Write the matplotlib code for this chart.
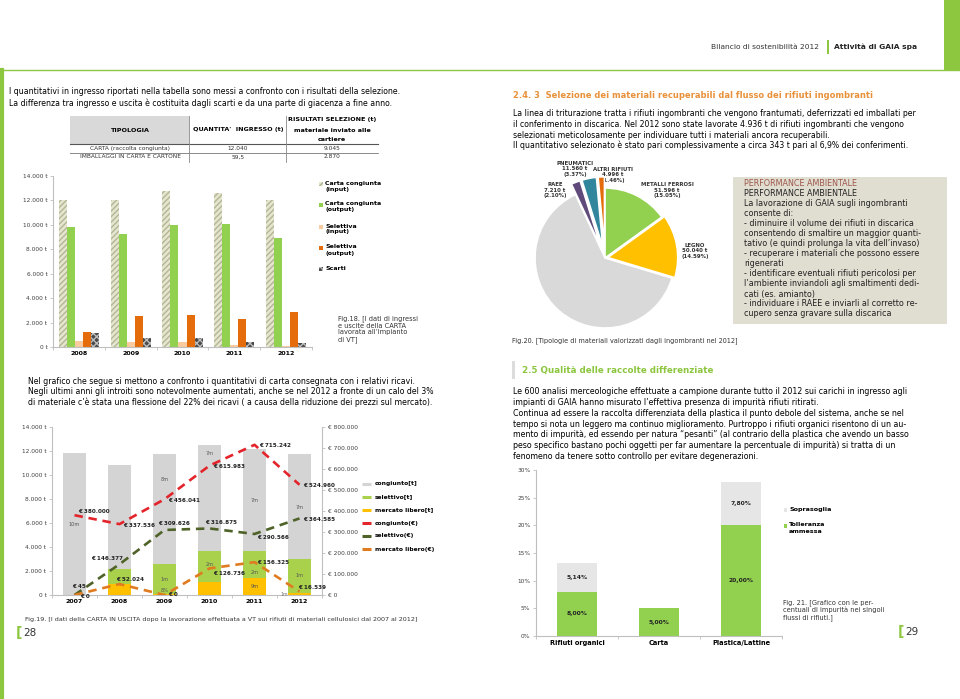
import numpy as np
import matplotlib.pyplot as plt
from matplotlib.patches import Rectangle
from matplotlib.ticker import FuncFormatter

W, H = 960, 699

# --- Fig.18: carta in ingresso / uscita (t)
years18 = ['2008', '2009', '2010', '2011', '2012']
carta_input = [12040, 12050, 12800, 12600, 12040]
carta_output = [9800, 9250, 9950, 10050, 8950]
selettiva_input = [480, 400, 420, 150, 60]
selettiva_output = [1250, 2550, 2580, 2300, 2870]
scarti = [1150, 750, 700, 450, 300]
labels18 = ['Carta congiunta\n(input)', 'Carta congiunta\n(output)',
            'Selettiva\n(input)', 'Selettiva\n(output)', 'Scarti']

# --- tabella
tab_tipologia = ['CARTA (raccolta congiunta)', 'IMBALLAGGI IN CARTA E CARTONE']
tab_ingresso = ['12.040', '59,5']
tab_risultati = ['9.045', '2.870']

# --- Fig.19: carta in uscita (t) e ricavi (EUR)
years19 = ['2007', '2008', '2009', '2010', '2011', '2012']
mercato_t = [0, 900, 50, 1100, 1400, 150]
selettivo_t = [0, 1300, 2550, 2600, 2300, 2850]
congiunto_t = [11800, 8600, 9150, 8800, 8500, 8750]
congiunto_eur = [380000, 337536, 456041, 615983, 715242, 524960]
selettivo_eur = [45, 146377, 309626, 316875, 290566, 364585]
mercato_eur = [0, 52024, 0, 126736, 156325, 16539]
# small labels printed inside the bars: (year index, level in t, text)
bar_notes = [(0, 5900, '10m'), (2, 9600, '8m'), (3, 11800, '7m'), (4, 7900, '7m'),
             (5, 7300, '7m'), (2, 1300, '1m'), (3, 2500, '2m'), (4, 1900, '2m'),
             (5, 1600, '1m'), (4, 750, '9m'), (2, 400, '8%')]
labels19 = ['congiunto[t]', 'selettivo[t]', 'mercato libero[t]',
            'congiunto(€)', 'selettivo(€)', 'mercato libero(€)']

# --- Fig.20: ingombranti 2012
pie_names = ['METALLI FERROSI', 'LEGNO', 'PLASTICA DURA', 'RAEE', 'PNEUMATICI', 'ALTRI RIFIUTI']
pie_t = [51.596, 50.040, 217.464, 7.210, 11.560, 4.996]
pie_pct = [15.05, 14.59, 63.43, 2.10, 3.37, 1.46]

# --- Fig.21: impurità
flussi = ['Rifiuti organici', 'Carta', 'Plastica/Lattine']
tolleranza = [8.00, 5.00, 20.00]
soprasoglia = [5.14, 0.0, 7.80]

GREEN = '#8dc63f'
BODY = 5.6
plt.rcParams['font.family'] = ['DejaVu Sans']


def it_num(v):
    return f'{v:,.0f}'.replace(',', '.')


def px_rect(x0, y0, x1, y1):
    return [x0 / W, 1 - y1 / H, (x1 - x0) / W, (y1 - y0) / H]


def style_axis(ax, color='#bfbfbf'):
    for s in ['top', 'right']:
        ax.spines[s].set_visible(False)
    for s in ['left', 'bottom']:
        ax.spines[s].set_color(color)
        ax.spines[s].set_linewidth(0.8)
    ax.tick_params(axis='y', length=2, width=0.6, color=color, labelsize=4.2,
                   labelcolor='#404040', pad=2)
    ax.tick_params(axis='x', length=0, labelsize=4.5, pad=3)
    ax.set_facecolor('none')


fig = plt.figure(figsize=(9.6, 6.99), dpi=100)
bg = fig.add_axes([0, 0, 1, 1])
bg.set_xlim(0, W)
bg.set_ylim(H, 0)
bg.axis('off')


def T(x, y, s, size=BODY, **kw):
    kw.setdefault('va', 'center')
    return bg.text(x, y, s, fontsize=size, **kw)


# ---------------- page frame / header
bg.add_patch(Rectangle((944, 0), 16, 70, color=GREEN, lw=0))
bg.plot([0, W], [70, 70], color=GREEN, lw=1)
bg.plot([1.5, 1.5], [70, H], color=GREEN, lw=3)
T(711, 47, 'Bilancio di sostenibilità 2012', 5.4, color='#333333')
bg.add_patch(Rectangle((827, 40), 2, 14, color=GREEN, lw=0))
T(834, 47, 'Attività di GAIA spa', 5.4, fontweight='bold', color='#222222')

# ---------------- left page text
T(9, 92, 'I quantitativi in ingresso riportati nella tabella sono messi a confronto con i risultati della selezione.')
T(9, 103, 'La differenza tra ingresso e uscita è costituita dagli scarti e da una parte di giacenza a fine anno.')

# table
bg.add_patch(Rectangle((70, 116), 119, 28, color='#d9d9d9', lw=0))
bg.plot([70, 378], [144, 144], color='#555555', lw=0.8)
bg.plot([70, 378], [152.5, 152.5], color='#777777', lw=0.6)
bg.plot([189, 189], [116, 162], color='#888888', lw=0.6)
bg.plot([286, 286], [116, 162], color='#888888', lw=0.6)
T(130, 130, 'TIPOLOGIA', 4.6, fontweight='bold', ha='center')
T(238, 130, "QUANTITA'  INGRESSO (t)", 4.6, fontweight='bold', ha='center')
T(332, 120, 'RISULTATI SELEZIONE (t)', 4.6, fontweight='bold', ha='center')
T(332, 130, 'materiale inviato alle', 4.6, fontweight='bold', ha='center')
T(332, 139.5, 'cartiere', 4.6, fontweight='bold', ha='center')
for i, yy in enumerate([148.5, 157]):
    T(130, yy, tab_tipologia[i], 4.2, ha='center', color='#333333')
    T(238, yy, tab_ingresso[i], 4.2, ha='center', color='#333333')
    T(332, yy, tab_risultati[i], 4.2, ha='center', color='#333333')

# ---------------- Fig.18
ax1 = fig.add_axes(px_rect(53, 176, 312, 347))
x1 = np.arange(len(years18))
bw = 0.155
styles18 = [
    dict(facecolor='#e6e6d0', edgecolor='#b2b694', hatch='//////'),
    dict(facecolor='#92d050', edgecolor='#92d050'),
    dict(facecolor='#f9cb9f', edgecolor='#f9cb9f'),
    dict(facecolor='#e46c0a', edgecolor='#e46c0a'),
    dict(facecolor='#4a4a4a', edgecolor='#bdbdbd', hatch='xxxxx'),
]
series18 = [carta_input, carta_output, selettiva_input, selettiva_output, scarti]
for i, vals in enumerate(series18):
    ax1.bar(x1 + (i - 2) * bw, vals, bw, linewidth=0, **styles18[i])
ax1.set_xlim(-0.5, len(years18) - 0.5)
ax1.set_ylim(0, 14000)
ax1.set_yticks(range(0, 14001, 2000))
ax1.yaxis.set_major_formatter(FuncFormatter(lambda v, p: it_num(v) + ' t'))
ax1.set_xticks(x1)
ax1.set_xticklabels(years18, fontweight='bold')
ax1.set_xticks(np.arange(-0.5, len(years18)), minor=True)
ax1.tick_params(axis='x', which='minor', length=2, color='#bfbfbf')
style_axis(ax1)

for i, (lab, yy) in enumerate(zip(labels18, [184, 205, 227, 248, 269])):
    st = styles18[i]
    bg.add_patch(Rectangle((318.5, yy - 2), 4, 4, facecolor=st['facecolor'],
                           edgecolor=st['edgecolor'], hatch=st.get('hatch'), lw=0))
    T(325, yy - 3.5, lab, 4.5, fontweight='bold', va='top', linespacing=1.25)

T(338, 315, 'Fig.18. [I dati di ingressi\ne uscite della CARTA\nlavorata all\u2019impianto\ndi VT]',
  4.8, va='top', color='#333333', linespacing=1.15)

# ---------------- paragraph
T(28, 381, 'Nel grafico che segue si mettono a confronto i quantitativi di carta consegnata con i relativi ricavi.')
T(28, 391.5, 'Negli ultimi anni gli introiti sono notevolmente aumentati, anche se nel 2012 a fronte di un calo del 3%')
T(28, 402, 'di materiale c\u2019è stata una flessione del 22% dei ricavi ( a causa della riduzione dei prezzi sul mercato).')

# ---------------- Fig.19
ax2 = fig.add_axes(px_rect(52, 427, 322, 595))
x2 = np.arange(len(years19))
bw2 = 0.51
c_merc, c_sel, c_cong = '#ffc000', '#a9d14c', '#d4d4d4'
ax2.bar(x2, mercato_t, bw2, color=c_merc, lw=0)
ax2.bar(x2, selettivo_t, bw2, bottom=mercato_t, color=c_sel, lw=0)
ax2.bar(x2, congiunto_t, bw2, bottom=np.add(mercato_t, selettivo_t), color=c_cong, lw=0)
for i, lvl, s in bar_notes:
    ax2.text(i, lvl, s, fontsize=3.6, ha='center', va='center', color='#555555')
ax2.text(5 - 0.33, 80, '1m', fontsize=3.4, ha='center', va='center', color='#777777')
ax2.set_xlim(-0.5, len(years19) - 0.5)
ax2.set_ylim(0, 14000)
ax2.set_yticks(range(0, 14001, 2000))
ax2.yaxis.set_major_formatter(FuncFormatter(lambda v, p: it_num(v) + ' t'))
ax2.set_xticks(x2)
ax2.set_xticklabels(years19, fontweight='bold')
ax2.set_xticks(np.arange(-0.5, len(years19)), minor=True)
ax2.tick_params(axis='x', which='minor', length=2, color='#bfbfbf')
style_axis(ax2)

ax2r = ax2.twinx()
ax2r.set_ylim(0, 800000)
ax2r.set_yticks(range(0, 800001, 100000))
ax2r.yaxis.set_major_formatter(FuncFormatter(lambda v, p: '€ ' + it_num(v)))
for s in ['top', 'left', 'bottom']:
    ax2r.spines[s].set_visible(False)
ax2r.spines['right'].set_color('#bfbfbf')
ax2r.spines['right'].set_linewidth(0.8)
ax2r.tick_params(axis='y', length=2, width=0.6, color='#bfbfbf', labelsize=4.2,
                 labelcolor='#404040', pad=2)

line_styles = [('#e3242b', congiunto_eur), ('#4f6228', selettivo_eur), ('#e07b20', mercato_eur)]
for col, vals in line_styles:
    ax2r.plot(x2, vals, color=col, lw=1.9, ls=(0, (3.2, 2.2)))

lab_off = {
    0: [(4, 4, 'left'), (4, -1, 'left'), (4, -1, 'left'), (4, -1, 'left'), (5, -1, 'left'), (4, -1, 'left')],
    1: [(-2, 8, 'left'), (3, 6, 'right'), (-6, 6, 'left'), (-4, 6, 'left'), (3, -4, 'left'), (4, -1, 'left')],
    2: [(6, -2, 'left'), (-3, 5, 'left'), (4, 0, 'left'), (4, -5, 'left'), (3, 0, 'left'), (-1, 4, 'left')],
}
for k, (col, vals) in enumerate(line_styles):
    for i, v in enumerate(vals):
        dx, dy, ha = lab_off[k][i]
        ax2r.annotate('€ ' + it_num(v), (i, v), xytext=(dx, dy), textcoords='offset pixels',
                      fontsize=4.1, fontweight='bold', ha=ha, va='center', color='#222222')

leg_y = [484, 497, 510, 523, 536, 549]
leg_cols = [c_cong, c_sel, c_merc, '#e3242b', '#4f6228', '#e07b20']
for i, (lab, yy) in enumerate(zip(labels19, leg_y)):
    bg.plot([362, 370.5], [yy, yy], color=leg_cols[i], lw=2.2, solid_capstyle='butt')
    T(375, yy, lab, 4.3, fontweight='bold')

T(25, 619, 'Fig.19. [I dati della CARTA IN USCITA dopo la lavorazione effettuata a VT sui rifiuti di materiali cellulosici dal 2007 al 2012]',
  4.55, color='#333333')
T(16, 633, '[', 10, color=GREEN, fontweight='bold')
T(23, 633, '28', 7.5, color='#333333')

# ---------------- right page text
T(513, 95, '2.4. 3  Selezione dei materiali recuperabili dal flusso dei rifiuti ingombranti', 6.0,
  fontweight='bold', color='#e8913a')
right_para = [
    'La linea di triturazione tratta i rifiuti ingombranti che vengono frantumati, deferrizzati ed imballati per',
    'il conferimento in discarica. Nel 2012 sono state lavorate 4.936 t di rifiuti ingombranti che vengono',
    'selezionati meticolosamente per individuare tutti i materiali ancora recuperabili.',
    'Il quantitativo selezionato è stato pari complessivamente a circa 343 t pari al 6,9% dei conferimenti.',
]
for i, s in enumerate(right_para):
    T(513, 114 + 10.5 * i, s)

# ---------------- Fig.20 pie
axp = fig.add_axes(px_rect(514, 167, 696, 349))
pie_cols = ['#92d050', '#ffc000', '#d9d9d9', '#604a7b', '#31859c', '#e46c0a']
axp.pie(pie_t, startangle=90, counterclock=False, colors=pie_cols,
        explode=[0, 0.04, 0, 0.16, 0.16, 0.16],
        wedgeprops=dict(edgecolor='white', linewidth=1.2))
axp.set_xlim(-1.3, 1.3)
axp.set_ylim(-1.3, 1.3)
axp.set_aspect('equal')
axp.axis('off')
pie_lab_pos = [(667, 190), (695, 251), (569, 284), (555, 190), (575, 169), (613, 175)]
for name, t, p, (lx, ly) in zip(pie_names, pie_t, pie_pct, pie_lab_pos):
    T(lx, ly, f'{name}\n{t:.3f} t\n({p:.2f}%)', 3.9, fontweight='bold', ha='center',
      linespacing=1.2, color='#333333')
T(512, 341, 'Fig.20. [Tipologie di materiali valorizzati dagli ingombranti nel 2012]', 4.7, color='#333333')

# performance box
bg.add_patch(Rectangle((733, 177), 214, 147, color='#e0ddd1', lw=0))
perf = [
    'PERFORMANCE AMBIENTALE',
    'La lavorazione di GAIA sugli ingombranti',
    'consente di:',
    '- diminuire il volume dei rifiuti in discarica',
    'consentendo di smaltire un maggior quanti-',
    'tativo (e quindi prolunga la vita dell\u2019invaso)',
    '- recuperare i materiali che possono essere',
    'rigenerati',
    '- identificare eventuali rifiuti pericolosi per',
    'l\u2019ambiente inviandoli agli smaltimenti dedi-',
    'cati (es. amianto)',
    '- individuare i RAEE e inviarli al corretto re-',
    'cupero senza gravare sulla discarica',
]
T(744, 184, 'PERFORMANCE AMBIENTALE', 5.8, color='#a0564b')
for i, s in enumerate(perf):
    T(744, 194 + 10 * i, s, 5.8, color='#222222')

# ---------------- 2.5
bg.add_patch(Rectangle((512, 361), 3, 18, color='#dcdcdc', lw=0))
T(522, 370, '2.5 Qualità delle raccolte differenziate', 6.3, fontweight='bold', color='#8cc63e')
para25 = [
    'Le 600 analisi merceologiche effettuate a campione durante tutto il 2012 sui carichi in ingresso agli',
    'impianti di GAIA hanno misurato l\u2019effettiva presenza di impurità rifiuti ritirati.',
    'Continua ad essere la raccolta differenziata della plastica il punto debole del sistema, anche se nel',
    'tempo si nota un leggero ma continuo miglioramento. Purtroppo i rifiuti organici risentono di un au-',
    'mento di impurità, ed essendo per natura \u201cpesanti\u201d (al contrario della plastica che avendo un basso',
    'peso specifico bastano pochi oggetti per far aumentare la percentuale di impurità) si tratta di un',
    'fenomeno da tenere sotto controllo per evitare degenerazioni.',
]
for i, s in enumerate(para25):
    T(513, 392 + 10.7 * i, s, 5.65)

# ---------------- Fig.21
ax3 = fig.add_axes(px_rect(536, 470, 782, 636))
x3 = np.arange(len(flussi))
ax3.bar(x3, tolleranza, 0.49, color='#92d050', lw=0)
ax3.bar(x3, soprasoglia, 0.49, bottom=tolleranza, color='#e6e6e6', lw=0)
for i in x3:
    ax3.text(i, tolleranza[i] / 2, f'{tolleranza[i]:.2f}%'.replace('.', ','), fontsize=4.3,
             fontweight='bold', ha='center', va='center', color='#222222')
    if soprasoglia[i] > 0:
        ax3.text(i, tolleranza[i] + soprasoglia[i] / 2, f'{soprasoglia[i]:.2f}%'.replace('.', ','),
                 fontsize=4.3, fontweight='bold', ha='center', va='center', color='#222222')
ax3.set_xlim(-0.5, len(flussi) - 0.5)
ax3.set_ylim(0, 30)
ax3.set_yticks(range(0, 31, 5))
ax3.yaxis.set_major_formatter(FuncFormatter(lambda v, p: f'{v:.0f}%'))
ax3.set_xticks(x3)
ax3.set_xticklabels(flussi, fontweight='bold', fontsize=4.8)
ax3.set_xticks(np.arange(-0.5, len(flussi)), minor=True)
ax3.tick_params(axis='x', which='minor', length=2, color='#bfbfbf')
style_axis(ax3)
ax3.tick_params(axis='x', labelsize=4.8)

bg.add_patch(Rectangle((783.5, 508), 3.5, 3.5, color='#e6e6e6', lw=0))
T(789, 510, 'Soprasoglia', 4.6, fontweight='bold')
bg.add_patch(Rectangle((783.5, 524), 3.5, 3.5, color='#92d050', lw=0))
T(789, 522.5, 'Tolleranza\nammessa', 4.6, fontweight='bold', va='top', linespacing=1.3)

T(783, 599, 'Fig. 21. [Grafico con le per-\ncentuali di impurità nei singoli\nflussi di rifiuti.]', 4.8,
  va='top', color='#333333', linespacing=1.15)
T(898, 632, '[', 10, color=GREEN, fontweight='bold')
T(905, 632, '29', 7.5, color='#333333')

fig.savefig('out.png', dpi=100)
